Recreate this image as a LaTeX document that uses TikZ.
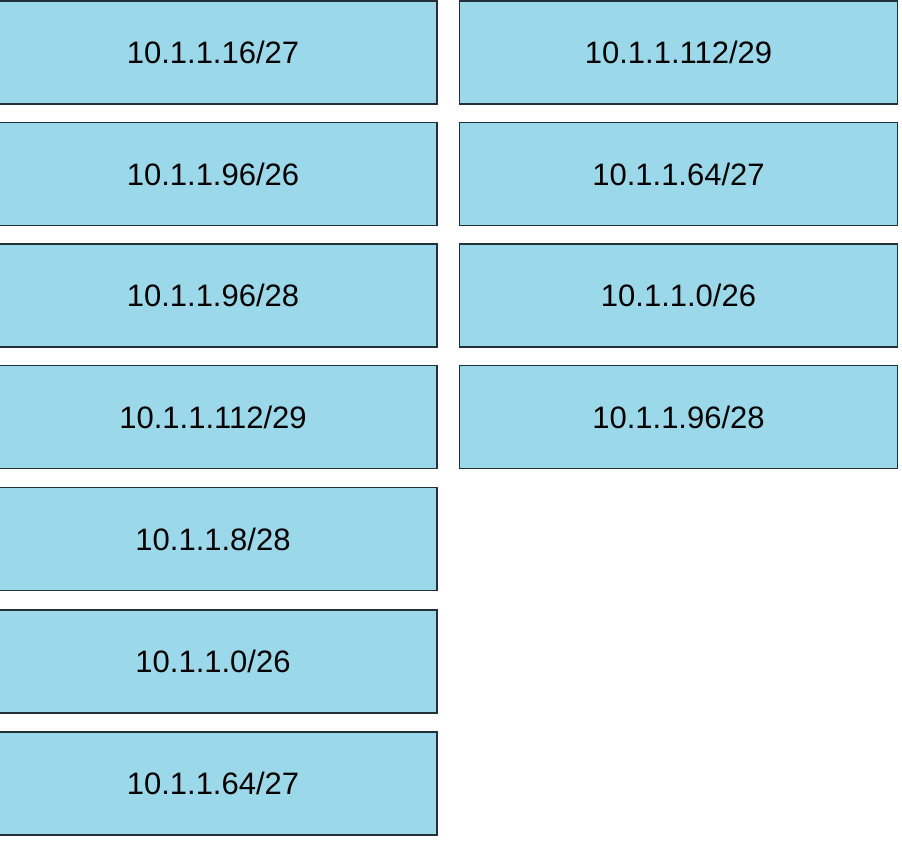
\documentclass[tikz,border=0pt]{standalone}
\usepackage{fontspec}
\setmainfont{Liberation Sans}
\definecolor{netblue}{RGB}{155,216,233}
\definecolor{netedge}{RGB}{35,50,58}
\tikzset{
  subnet/.style={draw=netedge, fill=netblue, line width=1.6pt, minimum height=103pt,
    inner sep=0pt, font=\fontsize{31}{36}\selectfont},
  leftbox/.style={subnet, minimum width=448pt},
  rightbox/.style={subnet, minimum width=438pt}
}
\begin{document}
\begin{tikzpicture}[x=1pt,y=1pt]
    % Page frame
    \useasboundingbox (0,0) rectangle (902,-854);
    \clip (0,0) rectangle (902,-854);

    % Left column
    \node[leftbox] (l1) at (213,-52.5) {10.1.1.16/27};
    \node[leftbox] (l2) at (213,-174) {10.1.1.96/26};
    \node[leftbox] (l3) at (213,-295.5) {10.1.1.96/28};
    \node[leftbox] (l4) at (213,-417) {10.1.1.112/29};
    \node[leftbox] (l5) at (213,-539) {10.1.1.8/28};
    \node[leftbox] (l6) at (213,-661.5) {10.1.1.0/26};
    \node[leftbox] (l7) at (213,-783.5) {10.1.1.64/27};

    % Right column
    \node[rightbox] (r1) at (678.5,-52.5) {10.1.1.112/29};
    \node[rightbox] (r2) at (678.5,-174) {10.1.1.64/27};
    \node[rightbox] (r3) at (678.5,-295.5) {10.1.1.0/26};
    \node[rightbox] (r4) at (678.5,-417) {10.1.1.96/28};
\end{tikzpicture}
\end{document}
